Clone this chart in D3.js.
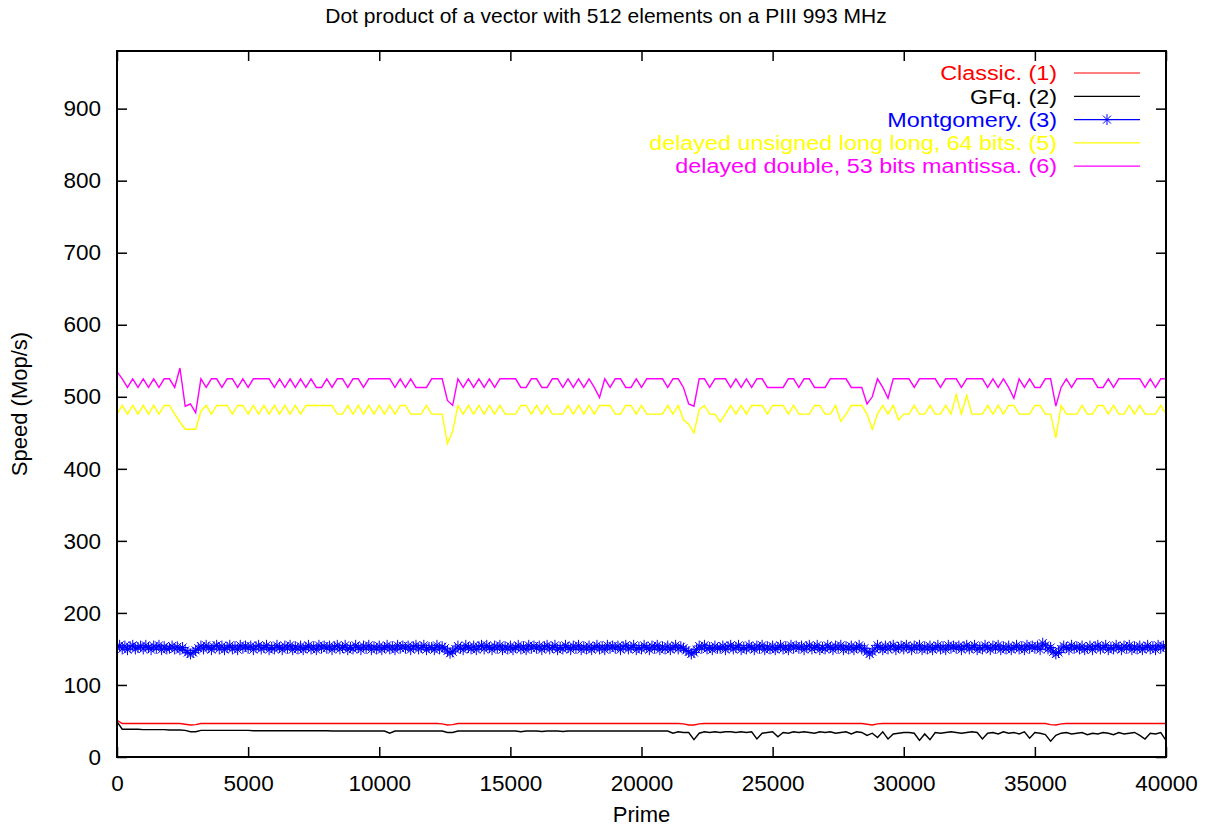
<!DOCTYPE html>
<html>
<head>
<meta charset="utf-8">
<script src="https://cdn.jsdelivr.net/npm/d3@7"></script>
<style>
  html, body { margin: 0; padding: 0; background: #fff; }
  svg { display: block; font-family: "Liberation Sans", Arial, sans-serif; }
</style>
</head>
<body>
<svg id="chart" width="1212" height="830"></svg>
<script>
// ---------------- data ----------------
const titleText = "Dot product of a vector with 512 elements on a PIII 993 MHz";
const xLabel = "Prime";
const yLabel = "Speed (Mop/s)";
const xTicks = [0, 5000, 10000, 15000, 20000, 25000, 30000, 35000, 40000];
const yTicks = [0, 100, 200, 300, 400, 500, 600, 700, 800, 900];
const xDomain = [0, 40000];
const yDomain = [0, 980];

// sampled primes: one sample every 200 (Montgomery: every 100)
const primes = d3.range(0, 40001, 200);
const primesFine = d3.range(0, 40001, 100);

const classic = [
  51,46.5,46.5,46.5,46.5,46.5,46.5,46.5,46.5,46.5,
  46.5,46.5,46.5,45.5,44.5,45,46.5,46.5,46.5,46.5,
  46.5,46.5,46.5,46.5,46.5,46.5,46.5,46.5,46.5,46.5,
  46.5,46.5,46.5,46.5,46.5,46.5,46.5,46.5,46.5,46.5,
  46.5,46.5,46.5,46.5,46.5,46.5,46.5,46.5,46.5,46.5,
  46.5,46.5,46.5,46.5,46.5,46.5,46.5,46.5,46.5,46.5,
  46.5,46.5,46,44.5,45,46.5,46.5,46.5,46.5,46.5,
  46.5,46.5,46.5,46.5,46.5,46.5,46.5,46.5,46.5,46.5,
  46.5,46.5,46.5,46.5,46.5,46.5,46.5,46.5,46.5,46.5,
  46.5,46.5,46.5,46.5,46.5,46.5,46.5,46.5,46.5,46.5,
  46.5,46.5,46.5,46.5,46.5,46.5,46.5,46.5,46,44.5,
  44.5,46,46.5,46.5,46.5,46.5,46.5,46.5,46.5,46.5,
  46.5,46.5,46.5,46.5,46.5,46.5,46.5,46.5,46.5,46.5,
  46.5,46.5,46.5,46.5,46.5,46.5,46.5,46.5,46.5,46.5,
  46.5,46.5,46.5,45.5,44.5,46,46.5,46.5,46.5,46.5,
  46.5,46.5,46.5,46.5,46.5,46.5,46.5,46.5,46.5,46.5,
  46.5,46.5,46.5,46.5,46.5,46.5,46.5,46.5,46.5,46.5,
  46.5,46.5,46.5,46.5,46.5,46.5,46.5,46.5,45,44.5,
  46,46.5,46.5,46.5,46.5,46.5,46.5,46.5,46.5,46.5,
  46.5,46.5,46.5,46.5,46.5,46.5,46.5,46.5,46.5,46.5,
  46.5
];

const gfq = [
  49,38.5,38.5,38.5,38.5,38,38,38,38,38,
  37.5,37.5,37.5,37,35,35,37,37,37,37,
  37,37,37,37,37,37,36.5,36.5,36.5,36.5,
  36.5,36.5,36.5,36.5,36.5,36.5,36.5,36.5,36.5,36.5,
  36.5,36,36,36,36,36,36,36,36,36,
  36,36,33,36,36,36,36,36,36,36,
  36,36,36,34,34,36,36,36,36,36,
  36,36,36,36,36,36,36,35,36,36,
  36,35.5,36,36,36,35.5,36,36,36,36,
  36,36,36,36,36,36,36,36,36,36,
  36,36,36,36,36,36,33,35,34,34,
  24,33,35,34,35,34,35,35,34,35,
  34,35,25,33,34,35,28,34,33,35,
  34,35,34,33,35,34,35,33,34,35,
  32,35,34,30,33,27,35,25,32,33,
  34,34,33,23,32,24,34,33,34,35,
  34,33,34,35,34,25,33,34,32,35,
  33,34,32,35,26,34,33,31,22,30,
  33,34,32,33,34,31,33,32,34,33,
  31,34,32,33,34,30,25,33,32,34,
  23
];

const montgomery = [
  152,155,150,154,149,153,155,150,152,154,
  150,155,152,149,154,151,155,149,153,150,
  151,154,150,153,149,152,148,145,143,145,
  148,151,154,150,155,152,149,153,155,150,
  154,149,152,155,150,153,149,155,151,154,
  151,154,149,153,155,150,152,155,149,152,
  150,155,152,149,154,151,155,149,153,150,
  154,149,152,155,150,153,149,155,151,154,
  151,154,149,153,155,150,152,155,149,152,
  150,155,152,149,154,151,155,149,153,150,
  154,149,152,155,150,153,149,155,151,154,
  151,154,149,153,155,150,152,155,149,152,
  152,149,155,150,153,151,147,144,146,150,
  154,151,149,155,152,150,154,149,153,155,
  150,155,152,149,154,151,155,149,153,150,
  154,149,152,155,150,153,149,155,151,154,
  151,154,149,153,155,150,152,155,149,152,
  150,155,152,149,154,151,155,149,153,150,
  154,149,152,155,150,153,149,155,151,154,
  151,154,149,153,155,150,152,155,149,152,
  150,155,152,149,154,151,155,149,153,150,
  154,149,152,155,150,153,151,148,146,143,
  145,149,154,151,155,150,152,149,154,151,
  151,154,149,153,155,150,152,155,149,152,
  150,155,152,149,154,151,155,149,153,150,
  154,149,152,155,150,153,149,155,151,154,
  151,154,149,153,155,150,152,155,149,152,
  150,155,152,149,154,151,155,149,153,150,
  154,149,152,155,150,151,146,143,146,150,
  155,152,149,154,150,153,155,149,152,154,
  150,155,152,149,154,151,155,149,153,150,
  154,149,152,155,150,153,149,155,151,154,
  151,154,149,153,155,150,152,155,149,152,
  150,155,152,149,154,151,155,149,153,150,
  154,149,152,155,150,153,149,155,151,154,
  151,154,149,158,155,150,152,146,143,145,
  150,154,152,149,155,151,153,150,154,149,
  151,154,149,153,155,150,152,155,149,152,
  150,155,152,149,154,151,155,149,153,150,
  154,149,152,155,150,153,149,155,151,154,
  152
];

const delayedULL = [
  476,488,476,488,476,488,476,488,476,488,
  488,476,465,455,455,455,480,488,476,488,
  488,488,476,488,488,476,488,476,488,476,
  488,476,488,476,488,476,488,488,488,488,
  488,488,476,476,488,476,488,476,488,476,
  488,476,488,476,488,488,476,476,476,488,
  476,476,476,435,452,488,476,488,476,488,
  476,488,476,488,476,476,476,488,488,476,
  488,476,488,476,476,476,488,476,488,476,
  488,476,488,488,488,476,476,488,488,476,
  488,476,476,476,476,488,476,488,468,462,
  450,482,488,476,476,465,476,488,476,488,
  476,488,488,488,476,488,488,488,476,488,
  476,476,476,488,488,476,476,488,466,476,
  488,488,488,476,455,476,488,476,488,468,
  476,476,488,476,476,488,476,476,488,476,
  503,476,502,476,476,476,488,476,488,476,
  488,488,476,476,476,488,488,476,476,443,
  488,476,476,476,488,476,476,488,488,476,
  488,476,476,488,476,488,476,476,476,488,
  476
];

const delayedDouble = [
  535,525,513,525,513,525,513,525,513,525,
  525,513,540,487,490,478,525,513,525,525,
  513,525,525,513,525,513,525,525,525,525,
  513,525,513,525,513,525,513,525,513,513,
  525,513,525,525,513,525,525,513,525,525,
  525,525,525,513,525,513,525,513,513,513,
  525,525,525,495,488,525,513,525,513,525,
  513,525,513,525,525,525,525,513,513,525,
  525,513,513,525,525,513,525,513,525,513,
  525,513,499,525,513,525,525,513,513,525,
  513,525,525,525,525,513,525,525,513,490,
  487,525,525,513,525,525,525,513,525,513,
  525,513,525,525,513,513,513,513,525,525,
  513,525,525,513,513,513,525,525,525,525,
  513,513,513,490,500,525,513,498,525,525,
  525,525,513,525,525,525,525,513,525,525,
  525,513,525,525,525,525,513,525,513,525,
  513,498,525,513,525,513,513,525,525,487,
  513,525,513,525,525,525,525,513,513,525,
  513,525,525,525,525,525,513,525,513,525,
  525
];

const seriesNames = [
  "Classic. (1)",
  "GFq. (2)",
  "Montgomery. (3)",
  "delayed unsigned long long, 64 bits. (5)",
  "delayed double, 53 bits mantissa. (6)"
];
const seriesColors = ["#ff0000", "#000000", "#0000ff", "#ffff00", "#ff00ff"];
const seriesValues = [classic, gfq, montgomery, delayedULL, delayedDouble];
const seriesX = [primes, primes, primesFine, primes, primes];
const seriesMarkers = [false, false, true, false, false];

// ---------------- layout ----------------
const W = 1212, H = 830;
const margin = { left: 117, right: W - 1166, top: 51, bottom: H - 757 };
const svg = d3.select("#chart");

const x = d3.scaleLinear().domain(xDomain).range([margin.left, W - margin.right]);
const y = d3.scaleLinear().domain(yDomain).range([H - margin.bottom, margin.top]);

const fontTitle = 21, fontTick = 22.5, fontLabel = 22, fontLegend = 20.6, legendStretch = 1.135;

svg.append("clipPath").attr("id", "clip").append("rect")
  .attr("x", margin.left).attr("y", margin.top)
  .attr("width", x.range()[1] - margin.left).attr("height", y.range()[0] - margin.top);

// title
svg.append("text").attr("x", W / 2).attr("y", 23)
  .attr("text-anchor", "middle").attr("font-size", fontTitle).attr("fill", "#000")
  .text(titleText);

// axes (ticks inward, mirrored)
const tickLen = 10;
const bottomAxis = d3.axisBottom(x).tickValues(xTicks).tickSize(-tickLen).tickPadding(18).tickFormat(d3.format("d"));
const topAxis = d3.axisTop(x).tickValues(xTicks).tickSize(-tickLen).tickFormat("");
const leftAxis = d3.axisLeft(y).tickValues(yTicks).tickSize(-tickLen).tickPadding(16).tickFormat(d3.format("d"));
const rightAxis = d3.axisRight(y).tickValues(yTicks).tickSize(-tickLen).tickFormat("");

function styleAxis(g) {
  g.select(".domain").remove();
  g.selectAll(".tick line").attr("stroke", "#000").attr("stroke-width", 1.5);
  g.selectAll(".tick text").attr("font-size", fontTick).attr("fill", "#000")
    .attr("font-family", "Liberation Sans, Arial, sans-serif");
}

svg.append("g").attr("transform", `translate(0,${y.range()[0]})`).call(bottomAxis).call(styleAxis);
svg.append("g").attr("transform", `translate(0,${margin.top})`).call(topAxis).call(styleAxis);
svg.append("g").attr("transform", `translate(${margin.left},0)`).call(leftAxis).call(styleAxis);
svg.append("g").attr("transform", `translate(${x.range()[1]},0)`).call(rightAxis).call(styleAxis);

// axis labels
svg.append("text").attr("x", (x.range()[0] + x.range()[1]) / 2).attr("y", 822)
  .attr("text-anchor", "middle").attr("font-size", fontLabel).text(xLabel);
svg.append("text").attr("transform", `translate(27,${(y.range()[0] + y.range()[1]) / 2}) rotate(-90)`)
  .attr("text-anchor", "middle").attr("font-size", fontLabel).text(yLabel);

// series
const plot = svg.append("g").attr("clip-path", "url(#clip)");

function star(g, cx, cy, color) {
  const r = 5.5, dg = 4;
  g.append("path")
    .attr("d", `M${cx - r},${cy}H${cx + r}M${cx},${cy - r}V${cy + r}M${cx - dg},${cy - dg}L${cx + dg},${cy + dg}M${cx - dg},${cy + dg}L${cx + dg},${cy - dg}`)
    .attr("stroke", color).attr("stroke-width", 1).attr("fill", "none");
}

seriesValues.forEach((vals, k) => {
  const xs = seriesX[k];
  const line = d3.line().x((d, i) => x(xs[i])).y(d => y(d));
  plot.append("path").datum(vals)
    .attr("d", line).attr("fill", "none")
    .attr("stroke", seriesColors[k]).attr("stroke-width", 1.4)
    .attr("stroke-linejoin", "miter");
  if (seriesMarkers[k]) {
    const mg = plot.append("g");
    vals.forEach((v, i) => star(mg, x(xs[i]), y(v), seriesColors[k]));
  }
});

// frame
svg.append("rect").attr("x", margin.left).attr("y", margin.top)
  .attr("width", x.range()[1] - margin.left).attr("height", y.range()[0] - margin.top)
  .attr("fill", "none").attr("stroke", "#000").attr("stroke-width", 2);

// legend
const legX = 1057, legY0 = 73, legDy = 23.3;
const leg = svg.append("g");
seriesNames.forEach((name, k) => {
  const yy = legY0 + k * legDy;
  leg.append("g").attr("transform", `translate(${legX},${yy}) scale(${legendStretch},1)`)
    .append("text").attr("x", 0).attr("y", 0).attr("dy", "0.35em")
    .attr("text-anchor", "end").attr("font-size", fontLegend).attr("fill", seriesColors[k]).text(name);
  leg.append("line").attr("x1", 1074).attr("x2", 1140).attr("y1", yy).attr("y2", yy)
    .attr("stroke", seriesColors[k]).attr("stroke-width", 1.2);
  if (seriesMarkers[k]) star(leg, 1107, yy, seriesColors[k]);
});
</script>
</body>
</html>
